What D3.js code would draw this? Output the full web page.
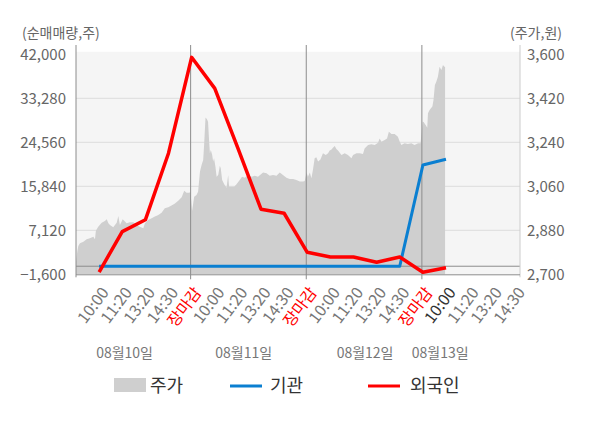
<!DOCTYPE html>
<html>
<head>
<meta charset="utf-8">
<script src="https://cdn.jsdelivr.net/npm/d3@7"></script>
<style>
  body { margin: 0; background: #fff; }
  text { font-family: "Noto Sans CJK KR", "Noto Sans", sans-serif; }
</style>
</head>
<body>
<svg id="chart" width="600" height="428"></svg>
<script>
// slot 0 = open of 08/10, each slot one tick step, 장마감 at 5, 10, 15
const tickLabels = ["10:00", "11:20", "13:20", "14:30", "장마감",
                    "10:00", "11:20", "13:20", "14:30", "장마감",
                    "10:00", "11:20", "13:20", "14:30", "장마감",
                    "10:00", "11:20", "13:20", "14:30"];
const dayLabels = ["08월10일", "08월11일", "08월12일", "08월13일"];
const daySlots = [2.1, 7.25, 12.5, 15.75];
const closeSlots = [5, 10, 15];

const leftTicks = [-1600, 7120, 15840, 24560, 33280, 42000];
const rightTicks = [2700, 2880, 3060, 3240, 3420, 3600];

// net buying, one value per slot from 1 to 16
const foreign = [-1150, 6850, 9200, 22400, 41400, 35250, 23400, 11300, 10500,
                 2760, 1830, 1830, 780, 1830, -1200, -290];
const institution = [0, 0, 0, 0, 0, 0, 0, 0, 0, 0, 0, 0, 0, 0, 20050, 21200];

// price [slot, won]
const price = [
  [0.00, 2752], [0.06, 2795], [0.10, 2816], [0.17, 2827], [0.32, 2833], [0.46, 2843],
  [0.60, 2847], [0.75, 2854], [0.82, 2843], [0.86, 2878], [0.96, 2895], [1.11, 2911],
  [1.25, 2918], [1.33, 2925], [1.40, 2909], [1.47, 2902], [1.61, 2892], [1.76, 2911],
  [1.83, 2939], [1.90, 2902], [2.02, 2925], [2.19, 2909], [2.33, 2913], [2.48, 2913],
  [2.62, 2902], [2.76, 2895], [2.91, 2888], [2.98, 2909], [3.12, 2922], [3.27, 2929],
  [3.41, 2936], [3.56, 2943], [3.70, 2952], [3.84, 2970], [3.99, 2974], [4.13, 2981],
  [4.28, 2990], [4.42, 3001], [4.57, 3015], [4.68, 3042], [4.78, 3034], [4.89, 3034],
  [4.95, 3037], [5.02, 2959], [5.11, 3017], [5.21, 3024], [5.28, 3038], [5.36, 3120],
  [5.43, 3147], [5.50, 3168], [5.54, 3229], [5.60, 3341], [5.66, 3335], [5.71, 3324],
  [5.75, 3256], [5.79, 3195], [5.83, 3209], [5.89, 3188], [5.93, 3161], [5.97, 3175],
  [6.03, 3140], [6.08, 3099], [6.15, 3106], [6.22, 3144], [6.26, 3134], [6.32, 3086],
  [6.41, 3068], [6.51, 3054], [6.58, 3106], [6.62, 3058], [6.73, 3058], [6.84, 3058],
  [6.94, 3068], [7.08, 3086], [7.18, 3099], [7.30, 3095], [7.44, 3106], [7.59, 3099],
  [7.73, 3103], [7.87, 3099], [8.09, 3116], [8.24, 3113], [8.38, 3103], [8.52, 3106],
  [8.67, 3103], [8.81, 3116], [8.95, 3106], [9.10, 3095], [9.24, 3090], [9.39, 3090],
  [9.53, 3086], [9.68, 3080], [9.82, 3080], [9.89, 3082], [9.97, 3116], [10.03, 3099],
  [10.11, 3116], [10.18, 3093], [10.25, 3130], [10.32, 3175], [10.39, 3179], [10.47, 3161],
  [10.57, 3170], [10.68, 3195], [10.80, 3188], [10.90, 3195], [10.97, 3206], [11.05, 3211],
  [11.11, 3218], [11.19, 3225], [11.26, 3213], [11.33, 3206], [11.48, 3188], [11.62, 3195],
  [11.76, 3188], [11.91, 3175], [11.98, 3188], [12.13, 3195], [12.27, 3195], [12.41, 3192],
  [12.48, 3215], [12.63, 3229], [12.77, 3232], [12.92, 3229], [13.06, 3238], [13.13, 3256],
  [13.21, 3242], [13.35, 3249], [13.45, 3256], [13.53, 3283], [13.64, 3274], [13.78, 3274],
  [13.92, 3263], [14.00, 3242], [14.07, 3229], [14.21, 3236], [14.35, 3233], [14.50, 3236],
  [14.64, 3229], [14.79, 3236], [14.90, 3236], [14.99, 3324], [15.03, 3323], [15.12, 3311],
  [15.19, 3300], [15.22, 3359], [15.29, 3372], [15.41, 3386], [15.46, 3413], [15.52, 3474],
  [15.58, 3488], [15.65, 3508], [15.72, 3549], [15.80, 3536], [15.87, 3556], [15.93, 3549],
  [15.96, 3549]
];

const plotLeft = 76, plotRight = 520, plotTop = 54.3, plotBottom = 274.3;

const x = d3.scaleLinear().domain([0, 19.2]).range([plotLeft, plotRight]);
const yL = d3.scaleLinear().domain([-1600, 42000]).range([plotBottom, plotTop]);
const yR = d3.scaleLinear().domain([2700, 3600]).range([plotBottom, plotTop]);

const svg = d3.select("#chart");

svg.append("rect")
  .attr("x", plotLeft).attr("y", plotTop - 2.5)
  .attr("width", plotRight - plotLeft).attr("height", plotBottom - plotTop + 2.5)
  .style("fill", "#f5f5f5");

// grid
svg.append("g").selectAll("line")
  .data(leftTicks.slice(1, -1))
  .enter().append("line")
  .attr("x1", plotLeft).attr("x2", plotRight)
  .attr("y1", d => yL(d)).attr("y2", d => yL(d))
  .style("stroke", "#dcdcdc").style("stroke-width", "1px");

// price area
const area = d3.area()
  .x(d => x(d[0]))
  .y0(yR(2700))
  .y1(d => yR(d[1]));
svg.append("path")
  .datum(price)
  .attr("d", area)
  .style("fill", "#cfcfcf");

// zero line
svg.append("line")
  .attr("x1", plotLeft).attr("x2", plotRight)
  .attr("y1", yL(0)).attr("y2", yL(0))
  .style("stroke", "#8c8c8c").style("stroke-width", "1px");

// day separators
svg.append("g").selectAll("line")
  .data(closeSlots)
  .enter().append("line")
  .attr("x1", d => x(d) - 1).attr("x2", d => x(d) - 1)
  .attr("y1", 45).attr("y2", plotBottom + 5)
  .style("stroke", "#8c8c8c").style("stroke-width", "1px");

// axes lines
svg.append("line")
  .attr("x1", plotLeft).attr("x2", plotLeft).attr("y1", 45).attr("y2", plotBottom + 3)
  .style("stroke", "#8c8c8c").style("stroke-width", "1px");
svg.append("line")
  .attr("x1", plotRight).attr("x2", plotRight).attr("y1", 45).attr("y2", plotBottom + 3)
  .style("stroke", "#cccccc").style("stroke-width", "1px");
svg.append("line")
  .attr("x1", plotLeft).attr("x2", plotRight).attr("y1", plotBottom + 0.5).attr("y2", plotBottom + 0.5)
  .style("stroke", "#8c8c8c").style("stroke-width", "1px");

// lines
const line = d3.line()
  .x((d, i) => x(i + 1))
  .y(d => yL(d));

svg.append("path")
  .datum(institution)
  .attr("d", line)
  .style("fill", "none")
  .style("stroke", "#0a7fd1")
  .style("stroke-width", "3px")
  .style("stroke-linejoin", "round");

svg.append("path")
  .datum(foreign)
  .attr("d", line)
  .style("fill", "none")
  .style("stroke", "#ff0000")
  .style("stroke-width", "3.5px")
  .style("stroke-linejoin", "round");

// y tick labels
svg.append("g").selectAll("text")
  .data(leftTicks)
  .enter().append("text")
  .attr("x", 66)
  .attr("y", d => yL(d))
  .attr("dy", "0.35em")
  .attr("text-anchor", "end")
  .style("font-size", "15px")
  .style("fill", "#666")
  .text(d => d3.format(",")(d));

svg.append("g").selectAll("text")
  .data(rightTicks)
  .enter().append("text")
  .attr("x", 527)
  .attr("y", d => yR(d))
  .attr("dy", "0.35em")
  .style("font-size", "15px")
  .style("fill", "#666")
  .text(d => d3.format(",")(d));

svg.append("text")
  .attr("x", 22).attr("y", 38)
  .style("font-size", "14px").style("fill", "#666")
  .text("(순매매량,주)");
svg.append("text")
  .attr("x", 562).attr("y", 38)
  .attr("text-anchor", "end")
  .style("font-size", "14px").style("fill", "#666")
  .text("(주가,원)");

// x tick labels
svg.append("g").selectAll("text")
  .data(tickLabels)
  .enter().append("text")
  .attr("transform", (d, i) => `translate(${x(i + 1) + 6} ${plotBottom + 15}) rotate(-53)`)
  .attr("text-anchor", "end")
  .attr("dy", "0.35em")
  .style("font-size", "16px")
  .style("fill", (d, i) => d === "장마감" ? "#ff0000" : (i === 15 ? "#333" : "#777"))
  .text(d => d);

svg.append("g").selectAll("text")
  .data(dayLabels)
  .enter().append("text")
  .attr("x", (d, i) => x(daySlots[i]))
  .attr("y", 358)
  .attr("text-anchor", "middle")
  .style("font-size", "14px")
  .style("fill", "#777")
  .text(d => d);

// legend
const legend = svg.append("g");
legend.append("rect")
  .attr("x", 114).attr("y", 378).attr("width", 32).attr("height", 14)
  .style("fill", "#cfcfcf");
legend.append("line")
  .attr("x1", 230).attr("x2", 262).attr("y1", 386).attr("y2", 386)
  .style("stroke", "#0a7fd1").style("stroke-width", "3px");
legend.append("line")
  .attr("x1", 368).attr("x2", 400).attr("y1", 386).attr("y2", 386)
  .style("stroke", "#ff0000").style("stroke-width", "3px");
legend.selectAll("text")
  .data([["주가", 150], ["기관", 270], ["외국인", 410]])
  .enter().append("text")
  .attr("x", d => d[1]).attr("y", 386)
  .attr("dy", "0.35em")
  .style("font-size", "18px")
  .style("fill", "#333")
  .text(d => d[0]);
</script>
</body>
</html>
